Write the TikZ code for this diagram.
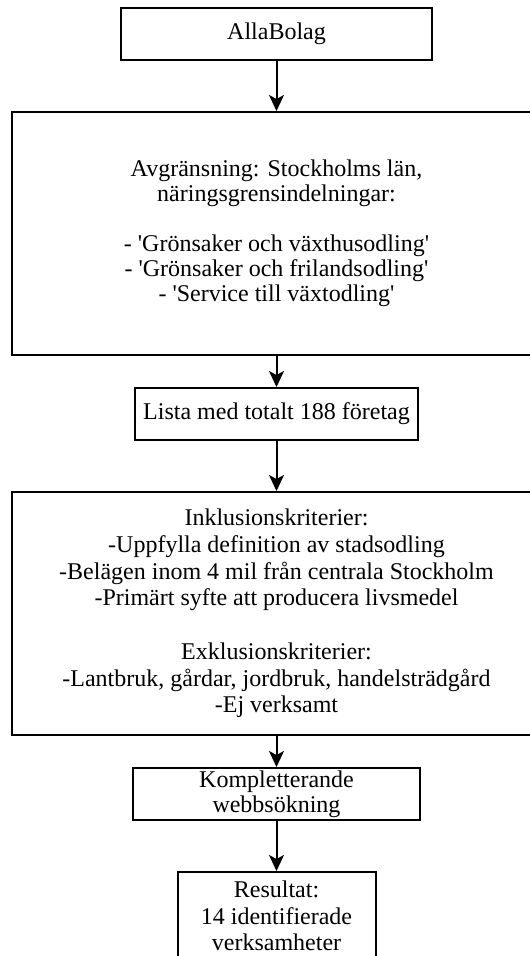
\documentclass[tikz,border=0pt]{standalone}
\usepackage{fontspec}
\setmainfont{Liberation Serif}
\usetikzlibrary{arrows.meta}
\newcommand{\sq}{\textquotesingle}
\begin{document}
\begin{tikzpicture}[x=1pt,y=1pt,
  box/.style={draw=black, line width=2pt, inner sep=0pt, align=center},
  fa/.style={font=\fontsize{24}{25}\selectfont},
  fb/.style={font=\fontsize{24}{26.7}\selectfont},
  arr/.style={line width=2pt, -{Stealth[length=16pt,width=15pt,inset=4pt]}}]
\useasboundingbox (0,0) rectangle (530,-956);
\clip (0,0) rectangle (530,-956);
\fill[white] (0,0) rectangle (530,-956);
\node[box, fa, minimum width=311pt, minimum height=52pt] (a) at (276.5,-34) {AllaBolag};
\node[box, fa, minimum width=530pt, minimum height=243pt] (b) at (276.5,-233.5)
  {Avgränsning: Stockholms län,\\ näringsgrensindelningar:\\[25pt]
   - \sq Grönsaker och växthusodling\sq\\
   - \sq Grönsaker och frilandsodling\sq\\
   - \sq Service till växtodling\sq};
\node[box, fa, minimum width=283pt, minimum height=52pt] (c) at (276.5,-414) {Lista med totalt 188 företag};
\node[box, fb, minimum width=530pt, minimum height=243pt] (d) at (276.5,-613.5)
  {Inklusionskriterier:\\
   -Uppfylla definition av stadsodling\\
   -Belägen inom 4 mil från centrala Stockholm\\
   -Primärt syfte att producera livsmedel\\[26.7pt]
   Exklusionskriterier:\\
   -Lantbruk, gårdar, jordbruk, handelsträdgård\\
   -Ej verksamt};
\node[box, fa, minimum width=287pt, minimum height=52pt] (e) at (276.5,-794) {Kompletterande\\ webbsökning};
\node[box, fb, minimum width=198pt, minimum height=88pt] (f) at (276.5,-916)
  {Resultat:\\ 14 identifierade\\ verksamheter};
\draw[arr] (a) -- (b);
\draw[arr] (b) -- (c);
\draw[arr] (c) -- (d);
\draw[arr] (d) -- (e);
\draw[arr] (e) -- (f);
\end{tikzpicture}
\end{document}
